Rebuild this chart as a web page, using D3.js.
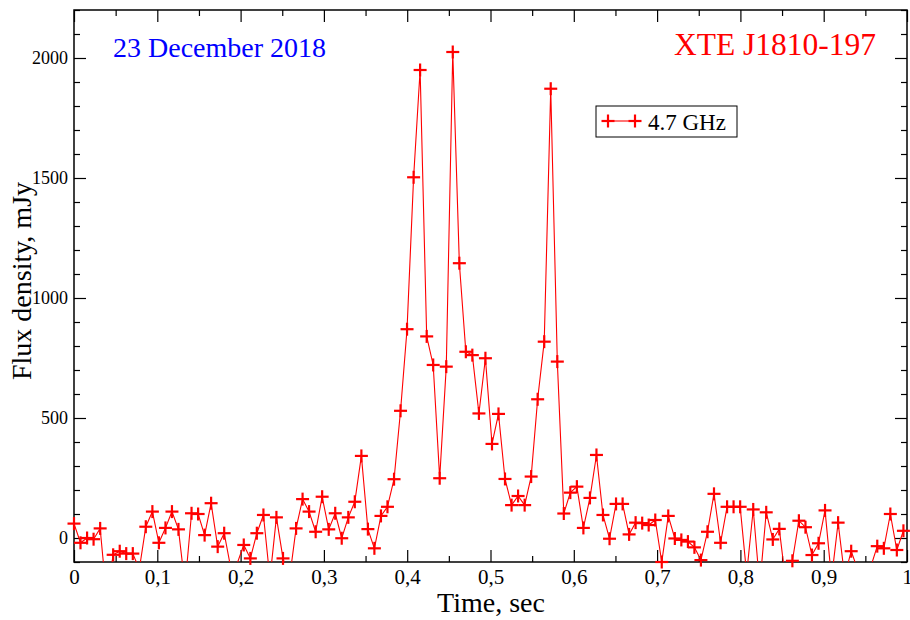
<!DOCTYPE html>
<html>
<head>
<meta charset="utf-8">
<script src="https://cdn.jsdelivr.net/npm/d3@7"></script>
<style>
  html, body { margin: 0; padding: 0; background: #fff; }
  svg { display: block; }
  text { font-family: "Liberation Serif", "Times New Roman", serif; }
</style>
</head>
<body>
<svg id="chart" width="910" height="620"></svg>
<script>
// ---- data ----
const times = [
  0.0000, 0.0078, 0.0157, 0.0235, 0.0314, 0.0392, 0.0470, 0.0549, 0.0627, 0.0706,
  0.0784, 0.0862, 0.0941, 0.1019, 0.1098, 0.1176, 0.1254, 0.1333, 0.1411, 0.1490,
  0.1568, 0.1646, 0.1725, 0.1803, 0.1882, 0.1960, 0.2038, 0.2117, 0.2195, 0.2274,
  0.2352, 0.2430, 0.2509, 0.2587, 0.2666, 0.2744, 0.2822, 0.2901, 0.2979, 0.3058,
  0.3136, 0.3214, 0.3293, 0.3371, 0.3450, 0.3528, 0.3606, 0.3685, 0.3763, 0.3842,
  0.3920, 0.3998, 0.4077, 0.4155, 0.4234, 0.4312, 0.4390, 0.4469, 0.4547, 0.4626,
  0.4704, 0.4782, 0.4861, 0.4939, 0.5018, 0.5096, 0.5174, 0.5253, 0.5331, 0.5410,
  0.5488, 0.5566, 0.5645, 0.5723, 0.5802, 0.5880, 0.5958, 0.6037, 0.6115, 0.6194,
  0.6272, 0.6350, 0.6429, 0.6507, 0.6586, 0.6664, 0.6742, 0.6821, 0.6899, 0.6978,
  0.7056, 0.7134, 0.7213, 0.7291, 0.7370, 0.7448, 0.7526, 0.7605, 0.7683, 0.7762,
  0.7840, 0.7918, 0.7997, 0.8075, 0.8154, 0.8232, 0.8310, 0.8389, 0.8467, 0.8546,
  0.8624, 0.8702, 0.8781, 0.8859, 0.8938, 0.9016, 0.9094, 0.9173, 0.9251, 0.9330,
  0.9408, 0.9486, 0.9565, 0.9643, 0.9722, 0.9800, 0.9878, 0.9957
];
const flux = [
  60, -20, 0, -5, 40, -250, -70, -55, -65, -65,
  -130, 47, 110, -20, 42, 110, 36, -200, 103, 100,
  12, 145, -36, 20, -125, -105, -29, -85, 20, 96,
  -170, 86, -85, -170, 40, 162, 110, 26, 172, 36,
  103, -1, 86, 151, 342, 37, -43, 92, 130, 245,
  530, 870, 1503, 1950, 840, 721, 249, 714, 2025, 1145,
  776, 762, 519, 749, 392, 517, 246, 137, 175, 137,
  256, 578, 818, 1872, 735, 102, 189, 214, 42, 167,
  346, 96, -3, 142, 142, 15, 64, 62, 54, 75,
  -100, 92, -2, -8, -15, -39, -92, 26, 184, -20,
  130, 130, 130, -150, 119, -200, 107, -6, 38, -190,
  -95, 72, 45, -71, -22, 115, -170, 64, -160, -55,
  -131, -150, -120, -34, -43, 100, -50, 30
];
const xMajorTicks = [0, 0.1, 0.2, 0.3, 0.4, 0.5, 0.6, 0.7, 0.8, 0.9, 1];
const xMinorTicks = [0.05, 0.15, 0.25, 0.35, 0.45, 0.55, 0.65, 0.75, 0.85, 0.95];
const yMajorTicks = [0, 500, 1000, 1500, 2000];
const yMinorTicks = [-100, 100, 200, 300, 400, 600, 700, 800, 900, 1100, 1200, 1300, 1400,
                     1600, 1700, 1800, 1900, 2100, 2200];
const xDomain = [0, 1];
const yDomain = [-100, 2200];
const seriesLabel = "4.7 GHz";
const dateLabel = "23 December 2018";
const sourceLabel = "XTE J1810-197";
const xTitle = "Time, sec";
const yTitle = "Flux density, mJy";

// ---- layout ----
const L = 74, R = 907, T = 10, B = 562;
const svg = d3.select("#chart");
const x = d3.scaleLinear().domain(xDomain).range([L, R]);
const y = d3.scaleLinear().domain(yDomain).range([B, T]);
const fmtX = d => d3.format("")(d).replace(".", ",");

svg.append("rect").attr("width", 910).attr("height", 620).attr("fill", "#fff");

svg.append("defs").append("clipPath").attr("id", "clip")
  .append("rect").attr("x", L).attr("y", T).attr("width", R - L).attr("height", B - T);

// axes: bottom
const gB = svg.append("g").attr("transform", `translate(0,${B})`)
  .call(d3.axisBottom(x).tickValues(xMajorTicks).tickSize(-12).tickPadding(7).tickFormat(fmtX));
svg.append("g").attr("transform", `translate(0,${B})`)
  .call(d3.axisBottom(x).tickValues(xMinorTicks).tickSize(-6).tickFormat(""));
// top
svg.append("g").attr("transform", `translate(0,${T})`)
  .call(d3.axisTop(x).tickValues(xMajorTicks).tickSize(-12).tickFormat(""));
svg.append("g").attr("transform", `translate(0,${T})`)
  .call(d3.axisTop(x).tickValues(xMinorTicks).tickSize(-6).tickFormat(""));
// left
svg.append("g").attr("transform", `translate(${L},0)`)
  .call(d3.axisLeft(y).tickValues(yMajorTicks).tickSize(-12).tickPadding(6).tickFormat(d3.format("d")))
  .attr("class", "yl");
svg.append("g").attr("transform", `translate(${L},0)`)
  .call(d3.axisLeft(y).tickValues(yMinorTicks).tickSize(-6).tickFormat(""));
// right
svg.append("g").attr("transform", `translate(${R},0)`)
  .call(d3.axisRight(y).tickValues(yMajorTicks).tickSize(-12).tickFormat(""));
svg.append("g").attr("transform", `translate(${R},0)`)
  .call(d3.axisRight(y).tickValues(yMinorTicks).tickSize(-6).tickFormat(""));

svg.selectAll(".domain").remove();
svg.selectAll(".tick line").attr("stroke", "#000").attr("stroke-width", 1.2);
gB.selectAll("text").attr("font-size", 21).attr("fill", "#000")
  .attr("font-family", "Liberation Serif, serif");
svg.select(".yl").selectAll("text").attr("font-size", 18).attr("fill", "#000")
  .attr("font-family", "Liberation Serif, serif");

// frame
svg.append("rect").attr("x", L).attr("y", T).attr("width", R - L).attr("height", B - T)
  .attr("fill", "none").attr("stroke", "#000").attr("stroke-width", 1.5);

// data
const pts = times.map((t, i) => ({ t, v: flux[i] }));
const line = d3.line().x(d => x(d.t)).y(d => y(d.v));
svg.append("path").datum(pts).attr("clip-path", "url(#clip)")
  .attr("d", line).attr("fill", "none").attr("stroke", "#ff0000").attr("stroke-width", 1.1);

const half = 6.5;
const mk = svg.append("g").attr("stroke", "#ff0000").attr("stroke-width", 2.2);
pts.filter(d => d.v >= yDomain[0]).forEach(d => {
  const cx = x(d.t), cy = y(d.v);
  mk.append("line").attr("x1", cx - half).attr("x2", cx + half).attr("y1", cy).attr("y2", cy);
  mk.append("line").attr("x1", cx).attr("x2", cx).attr("y1", cy - half).attr("y2", cy + half);
});

// legend
const lg = svg.append("g");
lg.append("rect").attr("x", 596).attr("y", 106).attr("width", 141).attr("height", 31)
  .attr("fill", "#fff").attr("stroke", "#000").attr("stroke-width", 1);
lg.append("line").attr("x1", 608).attr("x2", 635).attr("y1", 121).attr("y2", 121)
  .attr("stroke", "#ff0000").attr("stroke-width", 1.1);
[608, 635].forEach(cx => {
  lg.append("line").attr("x1", cx - half).attr("x2", cx + half).attr("y1", 121).attr("y2", 121)
    .attr("stroke", "#ff0000").attr("stroke-width", 2.2);
  lg.append("line").attr("x1", cx).attr("x2", cx).attr("y1", 121 - half).attr("y2", 121 + half)
    .attr("stroke", "#ff0000").attr("stroke-width", 2.2);
});
lg.append("text").attr("x", 648).attr("y", 130).attr("font-size", 23).attr("fill", "#000")
  .text(seriesLabel);

// annotations
svg.append("text").attr("x", 113).attr("y", 57).attr("font-size", 28).attr("fill", "#0000ff")
  .text(dateLabel);
svg.append("text").attr("x", 876).attr("y", 55).attr("text-anchor", "end").attr("font-size", 31.5)
  .attr("fill", "#ff0000").text(sourceLabel);

// axis titles
svg.append("text").attr("x", 491).attr("y", 612).attr("text-anchor", "middle")
  .attr("font-size", 28).attr("fill", "#000").text(xTitle);
svg.append("text").attr("transform", "translate(31,281) rotate(-90)").attr("text-anchor", "middle")
  .attr("font-size", 28).attr("fill", "#000").text(yTitle);
</script>
</body>
</html>
